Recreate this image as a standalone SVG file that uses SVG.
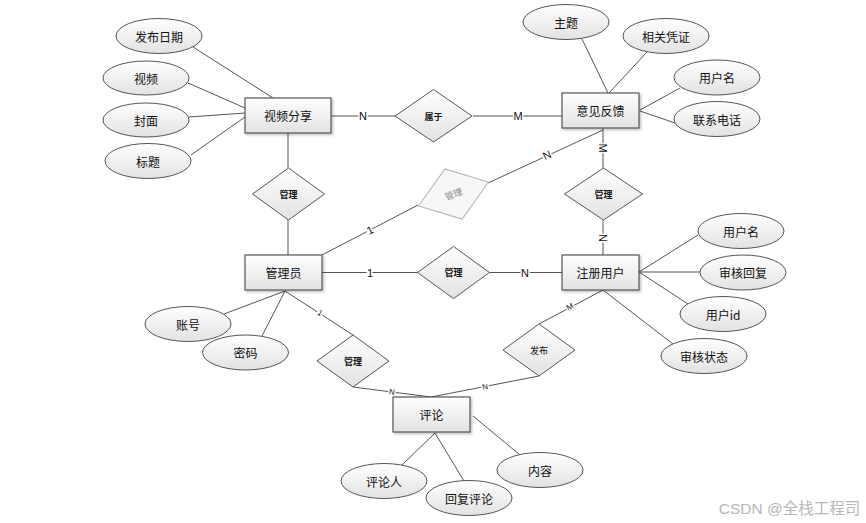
<svg xmlns="http://www.w3.org/2000/svg" width="866" height="523" viewBox="0 0 866 523">
<defs>
<linearGradient id="g" x1="0" y1="0" x2="0" y2="1">
<stop offset="0" stop-color="#ffffff"/><stop offset="1" stop-color="#e2e2e2"/>
</linearGradient>
<filter id="sh" x="-10%" y="-10%" width="130%" height="140%">
<feDropShadow dx="1.5" dy="1.5" stdDeviation="1" flood-color="#000" flood-opacity="0.25"/>
</filter>
</defs>
<style>
.ent{fill:url(#g);stroke:#555;stroke-width:1.2;filter:url(#sh)}
.att{fill:url(#g);stroke:#555;stroke-width:1}
.rel{fill:url(#g);stroke:#555;stroke-width:1}
.t{font-family:"Noto Sans CJK SC","Liberation Sans",sans-serif;font-size:12px;fill:#111;text-anchor:middle;dominant-baseline:central}
.rt{font-family:"Noto Sans CJK SC","Liberation Sans",sans-serif;font-size:9px;font-weight:bold;fill:#111;text-anchor:middle;dominant-baseline:central}
.lbl{font-family:"Liberation Sans",sans-serif;font-size:11px;fill:#111;text-anchor:middle;dominant-baseline:central;stroke:#fff;stroke-width:3px;paint-order:stroke}
.ln{stroke:#555;stroke-width:1;fill:none}
</style>
<rect width="866" height="523" fill="#fff"/>
<g id="connectors">
<line class="ln" x1="193" y1="47" x2="273" y2="98"/>
<line class="ln" x1="188" y1="83" x2="245" y2="108"/>
<line class="ln" x1="189" y1="117" x2="245" y2="113"/>
<line class="ln" x1="191" y1="155" x2="245" y2="117"/>
<line class="ln" x1="331" y1="116" x2="395" y2="116"/>
<line class="ln" x1="473" y1="116" x2="562" y2="116"/>
<line class="ln" x1="582" y1="39" x2="608" y2="93"/>
<line class="ln" x1="647" y1="52" x2="609" y2="93"/>
<line class="ln" x1="680" y1="88" x2="640" y2="110"/>
<line class="ln" x1="675" y1="123" x2="640" y2="111" stroke-width="1.5"/>
<line class="ln" x1="603" y1="128" x2="603" y2="168"/>
<line class="ln" x1="603" y1="130" x2="488" y2="183"/>
<line class="ln" x1="418" y1="205" x2="322" y2="255"/>
<line class="ln" x1="288" y1="133" x2="288" y2="168"/>
<line class="ln" x1="288" y1="220" x2="288" y2="255"/>
<line class="ln" x1="322" y1="272.5" x2="418" y2="272.5"/>
<line class="ln" x1="489" y1="272.5" x2="562" y2="272.5"/>
<line class="ln" x1="603" y1="255" x2="603" y2="220"/>
<line class="ln" x1="639" y1="272" x2="698" y2="235"/>
<line class="ln" x1="639" y1="272" x2="700" y2="272"/>
<line class="ln" x1="639" y1="272" x2="688" y2="304"/>
<line class="ln" x1="603" y1="290" x2="673" y2="344"/>
<line class="ln" x1="603" y1="290" x2="539" y2="324"/>
<line class="ln" x1="539" y1="376" x2="431" y2="397"/>
<line class="ln" x1="285" y1="291" x2="353" y2="335"/>
<line class="ln" x1="353" y1="387" x2="431" y2="397"/>
<line class="ln" x1="285" y1="291" x2="224" y2="314"/>
<line class="ln" x1="285" y1="291" x2="262" y2="336"/>
<line class="ln" x1="435" y1="433" x2="402" y2="465"/>
<line class="ln" x1="435" y1="433" x2="464" y2="481"/>
<line class="ln" x1="473" y1="416" x2="520" y2="455"/>
<text class="lbl" x="363" y="116">N</text>
<text class="lbl" x="518" y="116">M</text>
<text class="lbl" transform="translate(603,148) rotate(90)">M</text>
<text class="lbl" transform="translate(547,155) rotate(-25)">N</text>
<text class="lbl" transform="translate(370,230) rotate(-27)">1</text>
<text class="lbl" x="370" y="272.5">1</text>
<text class="lbl" x="525" y="272.5">N</text>
<text class="lbl" transform="translate(603,238) rotate(90)">N</text>
<text class="lbl" style="font-size:8px" transform="translate(570,307) rotate(-28)">M</text>
<text class="lbl" style="font-size:8px" transform="translate(485,387) rotate(-11)">N</text>
<text class="lbl" style="font-size:8px" transform="translate(320,313) rotate(33)">1</text>
<text class="lbl" style="font-size:8px" transform="translate(392,392) rotate(7)">N</text>
</g>
<g id="e-video"><rect class="ent" x="245" y="98" width="86" height="35"/><text class="t" x="288" y="115.5">视频分享</text></g>
<g id="e-feedback"><rect class="ent" x="562" y="93" width="77" height="35"/><text class="t" x="600.5" y="110.5">意见反馈</text></g>
<g id="e-admin"><rect class="ent" x="245" y="255" width="77" height="35"/><text class="t" x="283.5" y="272.5">管理员</text></g>
<g id="e-user"><rect class="ent" x="562" y="255" width="77" height="35"/><text class="t" x="600.5" y="272.5">注册用户</text></g>
<g id="e-comment"><rect class="ent" x="393" y="397" width="77" height="35"/><text class="t" x="431.5" y="414.5">评论</text></g>
<g id="a-date"><ellipse class="att" cx="159" cy="36" rx="43" ry="17.5"/><text class="t" x="159" y="36">发布日期</text></g>
<g id="a-video"><ellipse class="att" cx="146" cy="78" rx="43" ry="17"/><text class="t" x="146" y="78">视频</text></g>
<g id="a-cover"><ellipse class="att" cx="146" cy="120" rx="43" ry="17"/><text class="t" x="146" y="120">封面</text></g>
<g id="a-title"><ellipse class="att" cx="148" cy="161" rx="43" ry="17.5"/><text class="t" x="148" y="161">标题</text></g>
<g id="a-topic"><ellipse class="att" cx="566" cy="22" rx="43" ry="17.5"/><text class="t" x="566" y="22">主题</text></g>
<g id="a-proof"><ellipse class="att" cx="666" cy="36" rx="43" ry="17.5"/><text class="t" x="666" y="36">相关凭证</text></g>
<g id="a-fname"><ellipse class="att" cx="717" cy="77.5" rx="43" ry="17.5"/><text class="t" x="717" y="77.5">用户名</text></g>
<g id="a-phone"><ellipse class="att" cx="717" cy="119" rx="43" ry="17.5"/><text class="t" x="717" y="119">联系电话</text></g>
<g id="a-uname"><ellipse class="att" cx="741" cy="231" rx="43" ry="17.5"/><text class="t" x="741" y="231">用户名</text></g>
<g id="a-reply"><ellipse class="att" cx="743" cy="272.5" rx="43" ry="17.5"/><text class="t" x="743" y="272.5">审核回复</text></g>
<g id="a-uid"><ellipse class="att" cx="723" cy="314" rx="43" ry="17.5"/><text class="t" x="723" y="314">用户id</text></g>
<g id="a-status"><ellipse class="att" cx="704" cy="356" rx="43" ry="17.5"/><text class="t" x="704" y="356">审核状态</text></g>
<g id="a-account"><ellipse class="att" cx="188" cy="324" rx="43" ry="17.5"/><text class="t" x="188" y="324">账号</text></g>
<g id="a-pwd"><ellipse class="att" cx="245.5" cy="352.5" rx="43" ry="17.5"/><text class="t" x="245.5" y="352.5">密码</text></g>
<g id="a-commenter"><ellipse class="att" cx="384" cy="481" rx="43" ry="17.5"/><text class="t" x="384" y="481">评论人</text></g>
<g id="a-replyc"><ellipse class="att" cx="469" cy="498" rx="43" ry="17.5"/><text class="t" x="469" y="498">回复评论</text></g>
<g id="a-content"><ellipse class="att" cx="540" cy="470" rx="43" ry="17.5"/><text class="t" x="540" y="470">内容</text></g>
<g id="r-belong"><polygon class="rel" points="395,116 433.5,89.5 472,116 433.5,142"/><text class="rt" x="433.5" y="116">属于</text></g>
<g id="r-m1"><polygon class="rel" points="252.5,194 288.5,168 324.5,194 288.5,220"/><text class="rt" x="288.5" y="194">管理</text></g>
<g id="r-m2" transform="translate(453.5,194) rotate(-19)"><polygon points="-37,0 0,-26.5 37,0 0,26.5" fill="#f7f7f7" stroke="#b4b4b4" stroke-width="1"/><text x="0" y="0" style="font-family:'Noto Sans CJK SC','Liberation Sans',sans-serif;font-size:9px;fill:#888;text-anchor:middle;dominant-baseline:central">管理</text></g>
<g id="r-m3"><polygon class="rel" points="417.5,272.5 453.5,246.5 489.5,272.5 453.5,298.5"/><text class="rt" x="453.5" y="272.5">管理</text></g>
<g id="r-m4"><polygon class="rel" points="564.5,194 603.5,168 642.5,194 603.5,220"/><text class="rt" x="603.5" y="194">管理</text></g>
<g id="r-m5"><polygon class="rel" points="317,361 353,335 389,361 353,387"/><text class="rt" x="353" y="361">管理</text></g>
<g id="r-pub"><polygon class="rel" points="503,350 539,324 575,350 539,376"/><text class="rt" x="539" y="350" style="font-weight:normal">发布</text></g>
<text x="789.5" y="508" style="font-family:'Liberation Sans','Noto Sans CJK SC',sans-serif;font-size:15.5px;fill:#b8b8b8;text-anchor:middle;dominant-baseline:central">CSDN @全栈工程司</text>
</svg>
